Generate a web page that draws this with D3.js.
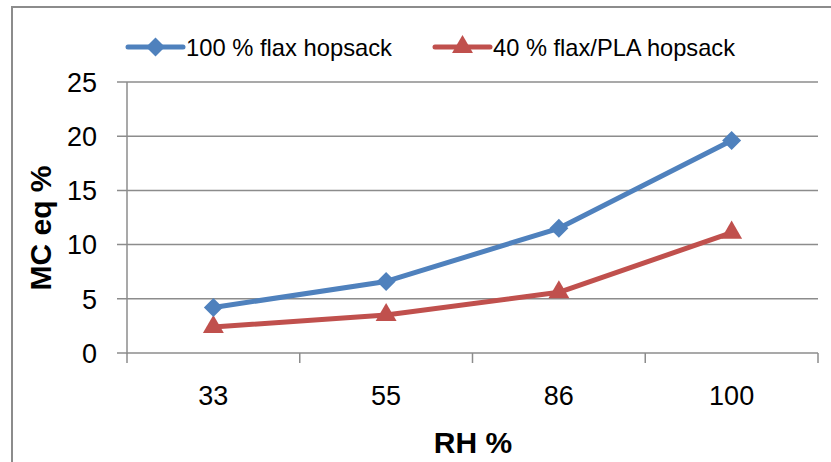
<!DOCTYPE html>
<meta charset="utf-8">
<style>
  body { margin: 0; background: #fff; }
  text { font-family: "Liberation Sans", Arial, sans-serif; }
</style>
<svg width="831" height="462"></svg>
<script src="https://d3js.org/d3.v7.min.js"></script>
<script>

var categories = ["33", "55", "86", "100"]
var flax = [4.2, 6.6, 11.5, 19.6]
var flaxPla = [2.4, 3.5, 5.6, 11.1]
var yTicks = [0, 5, 10, 15, 20, 25]
var seriesNames = ["100 % flax hopsack", "40 % flax/PLA hopsack"]

var svg = d3.select('svg')

// chart frame (only top and left edges show in the crop)
svg.append('path')
  .attr('d', 'M12,470 L12,7 L840,7')
  .attr('fill', 'none')
  .attr('stroke', '#8c8c8c')
  .attr('stroke-width', 2)

var x = d3.scaleBand().domain(categories).range([127, 818])
var y = d3.scaleLinear().domain([0, 25]).range([353, 82])

// gridlines + y ticks
svg.append('g').selectAll('line')
  .data(yTicks)
  .enter().append('line')
  .attr('x1', 117).attr('x2', 818)
  .attr('y1', function (d) { return y(d) }).attr('y2', function (d) { return y(d) })
  .attr('stroke', '#8c8c8c')
  .attr('stroke-width', 1.5)

svg.append('g').selectAll('text')
  .data(yTicks)
  .enter().append('text')
  .attr('x', 97)
  .attr('y', function (d) { return y(d) })
  .attr('dy', '0.36em')
  .attr('text-anchor', 'end')
  .attr('font-size', 27)
  .attr('fill', '#000')
  .text(function (d) { return d })

// y axis line
svg.append('line')
  .attr('x1', 127).attr('x2', 127).attr('y1', y(25)).attr('y2', y(0) + 1)
  .attr('stroke', '#8c8c8c').attr('stroke-width', 1.5)

// x axis tick marks at band edges
var edges = categories.map(function (c) { return x(c) }).concat([x.range()[1]])
svg.append('g').selectAll('line')
  .data(edges)
  .enter().append('line')
  .attr('x1', function (d) { return d }).attr('x2', function (d) { return d })
  .attr('y1', y(0)).attr('y2', y(0) + 10)
  .attr('stroke', '#8c8c8c').attr('stroke-width', 1.5)

svg.append('g').selectAll('text')
  .data(categories)
  .enter().append('text')
  .attr('x', function (d) { return x(d) + x.bandwidth() / 2 })
  .attr('y', 405)
  .attr('text-anchor', 'middle')
  .attr('font-size', 27)
  .text(function (d) { return d })

// axis titles
svg.append('text')
  .attr('x', 473).attr('y', 453)
  .attr('text-anchor', 'middle')
  .attr('font-size', 30)
  .attr('font-weight', 'bold')
  .text('RH %')

svg.append('text')
  .attr('transform', 'translate(51,228) rotate(-90)')
  .attr('text-anchor', 'middle')
  .attr('font-size', 30)
  .attr('font-weight', 'bold')
  .text('MC eq %')

var line = d3.line()
  .x(function (d, i) { return x(categories[i]) + x.bandwidth() / 2 })
  .y(function (d) { return y(d) })

var diamond = d3.symbol().type(d3.symbolDiamond2).size(230)
var triangle = d3.symbol().type(d3.symbolTriangle).size(190)

var series = [
  { name: seriesNames[0], values: flax, color: '#4f81bd', shape: diamond },
  { name: seriesNames[1], values: flaxPla, color: '#c0504d', shape: triangle }
]

series.slice().reverse().forEach(function (s) {
  svg.append('path')
    .attr('d', line(s.values))
    .attr('fill', 'none')
    .attr('stroke', s.color)
    .attr('stroke-width', 5)
    .attr('stroke-linejoin', 'round')

  svg.append('g').selectAll('path')
    .data(s.values)
    .enter().append('path')
    .attr('d', s.shape)
    .attr('transform', function (d, i) {
      return 'translate(' + (x(categories[i]) + x.bandwidth() / 2) + ',' + y(d) + ')'
    })
    .attr('fill', s.color)
})

// legend
var legendX = [128, 435]
var legendW = [206, 242]
series.forEach(function (s, i) {
  var g = svg.append('g').attr('transform', 'translate(' + legendX[i] + ',47)')
  g.append('line')
    .attr('x1', 0).attr('x2', 55)
    .attr('stroke', s.color).attr('stroke-width', 5)
    .attr('stroke-linecap', 'round')
  g.append('path')
    .attr('d', s.shape)
    .attr('transform', 'translate(27.5,0)')
    .attr('fill', s.color)
  g.append('text')
    .attr('x', 58).attr('dy', '0.36em')
    .attr('font-size', 24)
    .attr('textLength', legendW[i])
    .attr('lengthAdjust', 'spacingAndGlyphs')
    .text(s.name)
})

</script>
